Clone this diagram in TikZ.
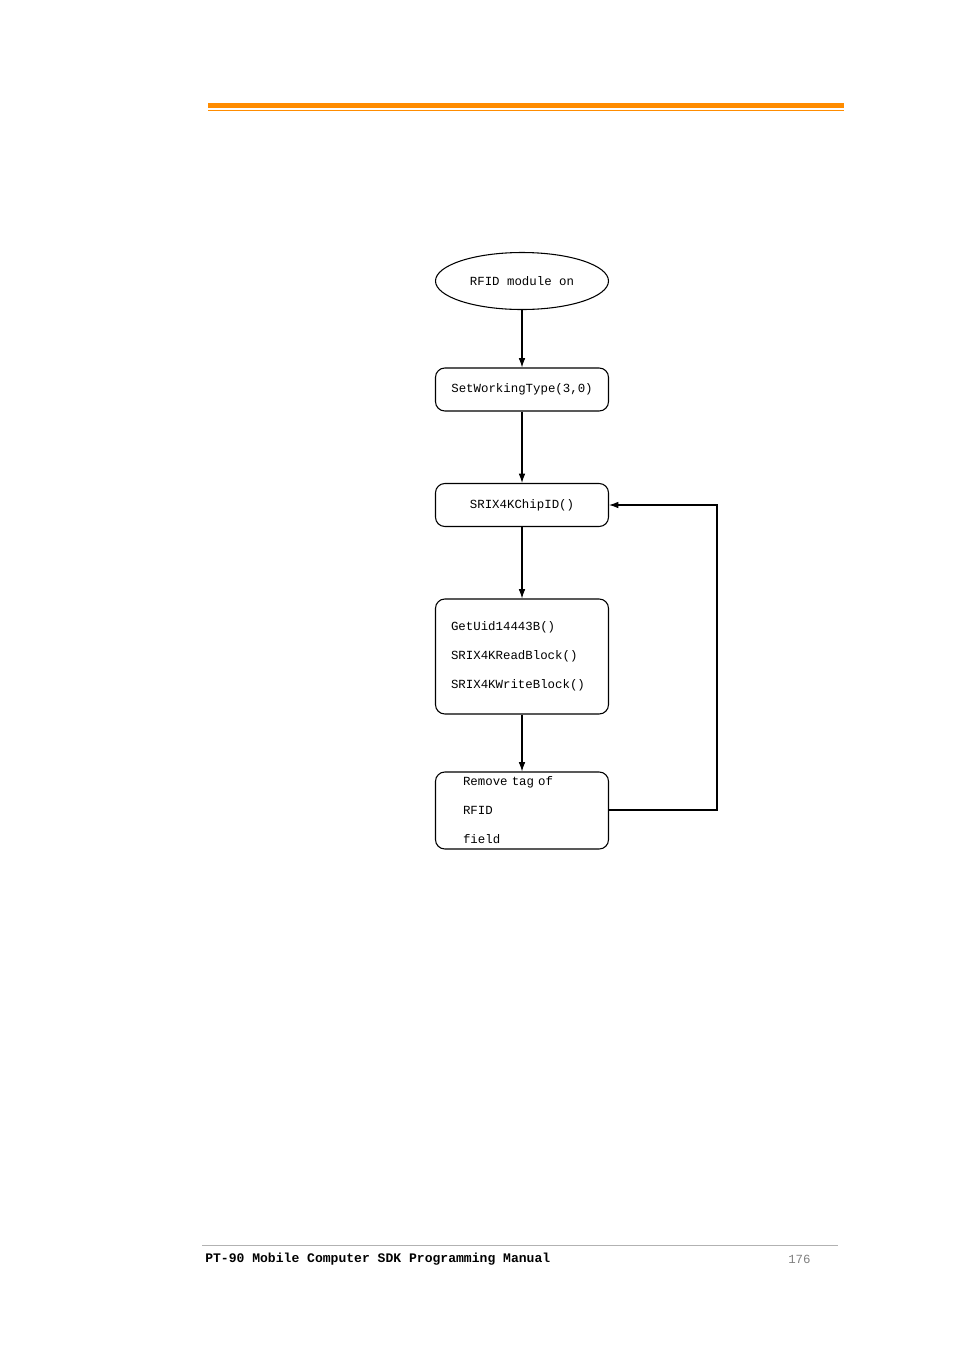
\documentclass[tikz,border=0pt]{standalone}
\usepackage{fontspec}
\setmonofont{Liberation Mono}
\usetikzlibrary{shapes.geometric, arrows, arrows.meta, positioning, calc}

\begin{document}
\begin{tikzpicture}[x=0.75pt, y=-0.75pt, font=\ttfamily\fontsize{9.3}{13}\selectfont]
		\tikzstyle{Base} = [
			draw=black,
			thick,
			minimum width=173*0.75pt,
			inner sep=0pt
		]
		\tikzstyle{StepBox} = [
			Base,
			rounded corners=7pt
		]
		\tikzstyle{Flow} = [-{Latex[length=7pt,width=5pt]}, thick]
		\useasboundingbox (0,0) rectangle (954,1350);

		%%%%%%%%%%%%%%%%%%%%%%%%%%===---HEADER---===%%%%%%%%%%%%%%%%%%%%%%%%%%
		\fill [orange!90!yellow] (208,103) rectangle (844,108);
		\draw [orange!90!yellow, thin] (208,110.5) -- (844,110.5);
		%%%%%%%%%%%%%%%%%%%%%%%%%%===---FLOW---===%%%%%%%%%%%%%%%%%%%%%%%%%%
		\node (start) [Base, ellipse, minimum height=57*0.75pt] at (522,281) {RFID module on};
		\node (work) [StepBox, minimum height=43*0.75pt] at (522,389.5) {SetWorkingType(3,0)};
		\node (chip) [StepBox, minimum height=43*0.75pt] at (522,505) {SRIX4KChipID()};
		\node (rw) [StepBox, minimum height=115*0.75pt, align=left, text width=142*0.75pt, font=\ttfamily\fontsize{9.3}{21.75}\selectfont] at (522,656.5)
			{GetUid14443B()\\SRIX4KReadBlock()\\SRIX4KWriteBlock()};
		\node (remove) [StepBox, minimum height=77*0.75pt, align=left, text width=118*0.75pt, font=\ttfamily\fontsize{9.3}{21.75}\selectfont, xshift=2*0.75pt] at (520,810.5)
			{Remove tag of RFID\\field};
		\coordinate (loop) at (717,810);
		\draw [Flow] (start) -- (work);
		\draw [Flow] (work) -- (chip);
		\draw [Flow] (chip) -- (rw);
		\draw [Flow] (rw) -- (remove);
		\draw [Flow] (remove.east |- loop) -- (loop) |- (chip.east);
		%%%%%%%%%%%%%%%%%%%%%%%%%%===---FOOTER---===%%%%%%%%%%%%%%%%%%%%%%%%%%
		\draw [gray!60] (202,1245) -- (838,1245);
		\node (manual) [anchor=west, inner sep=0pt, font=\ttfamily\bfseries\fontsize{9.8}{11}\selectfont] at (205,1259) {PT-90 Mobile Computer SDK Programming Manual};
		\node (page) [anchor=west, inner sep=0pt, text=gray] at (788,1259) {176};
	\end{tikzpicture}
\end{document}
